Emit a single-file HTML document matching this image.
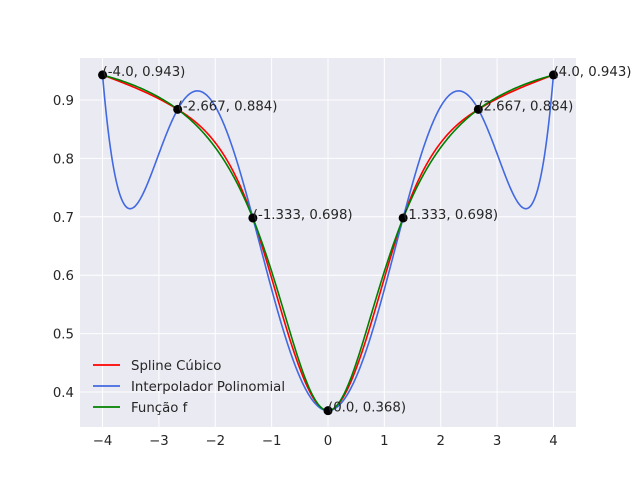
<!DOCTYPE html>
<html><head><meta charset="utf-8"><style>
body{margin:0;background:#fff}
svg text{font-family:"DejaVu Sans","Liberation Sans",sans-serif;fill:#262626}
</style></head><body>
<svg id="chart" width="640" height="480" xmlns="http://www.w3.org/2000/svg">
<rect x="0" y="0" width="640" height="480" fill="#fff"/>
<rect x="80" y="58" width="496" height="369" fill="#eaeaf2"/>
<g id="grid"></g><g id="ticks"></g><g id="series"></g><g id="points"></g><g id="legend"></g>
</svg>
<script>
const nodeX=[-4,-2.667,-1.333,0,1.333,2.667,4];
const nodeY=[0.943,0.884,0.698,0.368,0.698,0.884,0.943];
const fX=[-4,-3.75,-3.5,-3.25,-3,-2.75,-2.5,-2.25,-2,-1.75,-1.5,-1.25,-1,-0.75,-0.5,-0.25,0,0.25,0.5,0.75,1,1.25,1.5,1.75,2,2.25,2.5,2.75,3,3.25,3.5,3.75,4];
const fY=[0.9429,0.9358,0.9273,0.9171,0.9048,0.8898,0.8712,0.8480,0.8187,0.7818,0.7351,0.6769,0.6065,0.5273,0.4493,0.3902,0.3679,0.3902,0.4493,0.5273,0.6065,0.6769,0.7351,0.7818,0.8187,0.8480,0.8712,0.8898,0.9048,0.9171,0.9273,0.9358,0.9429];
const xTicks=[-4,-3,-2,-1,0,1,2,3,4];
const yTicks=[0.4,0.5,0.6,0.7,0.8,0.9];
const legendLabels=["Spline Cúbico","Interpolador Polinomial","Função f"];
const colors=["#ff0000","#4169e1","#008000"];
const NS="http://www.w3.org/2000/svg";
const X0=80,X1=576,Y0=58,Y1=427,xmin=-4.4,xmax=4.4,ymin=0.34,ymax=0.972;
function sx(v){return X0+(v-xmin)/(xmax-xmin)*(X1-X0);}
function sy(v){return Y1-(v-ymin)/(ymax-ymin)*(Y1-Y0);}
function mk(tag,attrs,parent){const e=document.createElementNS(NS,tag);for(const k in attrs)e.setAttribute(k,attrs[k]);parent.appendChild(e);return e;}
const grid=document.getElementById('grid'),ticks=document.getElementById('ticks');
xTicks.forEach(t=>{
 const l=mk('line',{x1:sx(t),x2:sx(t),y1:Y0,y2:Y1,stroke:'#fff','stroke-width':1},grid);
 
 
 const tx=mk('text',{x:sx(t),y:Y1+18,'text-anchor':'middle','font-size':13.3},ticks);
 tx.textContent=(t<0?'\u2212'+(-t):''+t);
 
 
});
yTicks.forEach(t=>{
 const l=mk('line',{x1:X0,x2:X1,y1:sy(t),y2:sy(t),stroke:'#fff','stroke-width':1},grid);
 
 
 const tx=mk('text',{x:X0-6,y:sy(t)+5,'text-anchor':'end','font-size':13.3},ticks);
 tx.textContent=t.toFixed(1);
 
 
});
function spline(xs,ys){const n=xs.length-1,h=[],a=[],l=[1],mu=[0],z=[0],c=new Array(n+1).fill(0),b=[],d=[];
 for(let i=0;i<n;i++)h[i]=xs[i+1]-xs[i];
 for(let i=1;i<n;i++)a[i]=3/h[i]*(ys[i+1]-ys[i])-3/h[i-1]*(ys[i]-ys[i-1]);
 for(let i=1;i<n;i++){l[i]=2*(xs[i+1]-xs[i-1])-h[i-1]*mu[i-1];mu[i]=h[i]/l[i];z[i]=(a[i]-h[i-1]*z[i-1])/l[i];}
 l[n]=1;z[n]=0;
 for(let j=n-1;j>=0;j--){c[j]=z[j]-mu[j]*c[j+1];b[j]=(ys[j+1]-ys[j])/h[j]-h[j]*(c[j+1]+2*c[j])/3;d[j]=(c[j+1]-c[j])/(3*h[j]);}
 return x=>{let j=0;while(j<n-1&&x>xs[j+1])j++;const t=x-xs[j];return ys[j]+b[j]*t+c[j]*t*t+d[j]*t*t*t;};}
function lagrange(xs,ys){return x=>{let s=0;for(let i=0;i<xs.length;i++){let p=ys[i];for(let j=0;j<xs.length;j++)if(j!==i)p*=(x-xs[j])/(xs[i]-xs[j]);s+=p;}return s;};}
const series=document.getElementById('series');
function curve(fn,x0,x1){let d='';for(let i=0;i<=400;i++){const x=x0+(x1-x0)*i/400;d+=(i?'L':'M')+sx(x).toFixed(2)+','+sy(fn(x)).toFixed(2);}return d;}
const sp=spline(nodeX,nodeY),lg=lagrange(nodeX,nodeY),ff=spline(fX,fY);
const p1=mk('path',{d:curve(sp,nodeX[0],nodeX[nodeX.length-1]),fill:'none',stroke:colors[0],'stroke-width':1.6},series);


const p2=mk('path',{d:curve(lg,nodeX[0],nodeX[nodeX.length-1]),fill:'none',stroke:colors[1],'stroke-width':1.6},series);


const p3=mk('path',{d:curve(ff,fX[0],fX[fX.length-1]),fill:'none',stroke:colors[2],'stroke-width':1.6},series);


const pts=document.getElementById('points');
nodeX.forEach((x,i)=>{
 const c=mk('circle',{cx:sx(x),cy:sy(nodeY[i]),r:4.5,fill:'#000'},pts);
 
 
 const t=mk('text',{x:sx(x),y:sy(nodeY[i])+1,'font-size':13.3},pts);
 t.textContent='('+x.toFixed(x%1===0?1:3)+', '+nodeY[i].toFixed(3)+')';
 
 
});
const leg=document.getElementById('legend');
legendLabels.forEach((s,i)=>{
 const y=365+i*21;
 const l=mk('line',{x1:93,x2:120,y1:y,y2:y,stroke:colors[i],'stroke-width':1.8},leg);
 
 
 const t=mk('text',{x:131,y:y+5,'font-size':13.3},leg);
 t.textContent=s;
 
 
});
</script>
</body></html>
